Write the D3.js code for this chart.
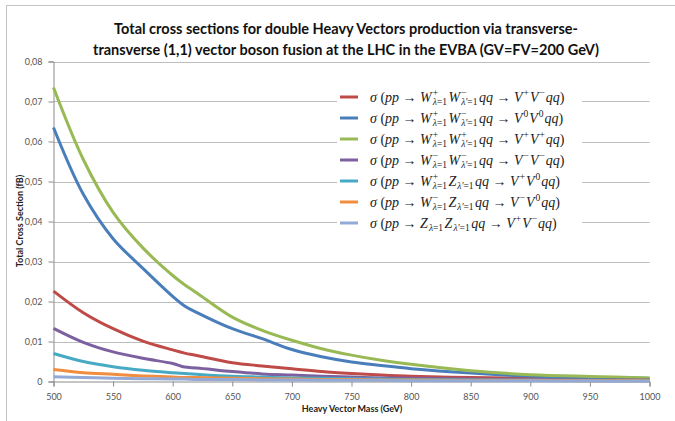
<!DOCTYPE html>
<html>
<head>
<meta charset="utf-8">
<script src="https://cdn.jsdelivr.net/npm/d3@7"></script>
<style>
  body { margin: 0; background: #fff; }
  svg { display: block; }
</style>
</head>
<body>
<div class="container"></div>
<script>
// ===== DATA =====
var masses = [500, 525, 550, 575, 600, 610, 620, 650, 675, 700, 725, 750, 775, 800, 850, 900, 950, 1000];

var wpwm_pm = [0.0226, 0.0172, 0.0132, 0.0101, 0.0079, 0.0071, 0.0065, 0.0047, 0.0039, 0.0032, 0.0025, 0.0020, 0.0016, 0.0013, 0.0010, 0.0008, 0.0007, 0.0006];
var wpwm_00 = [0.0635, 0.0468, 0.0357, 0.0283, 0.0213, 0.0189, 0.0173, 0.0132, 0.0107, 0.0080, 0.0062, 0.0049, 0.0040, 0.0032, 0.0021, 0.00135, 0.0010, 0.0008];
var wpwp_pp = [0.0735, 0.0555, 0.0423, 0.0334, 0.0265, 0.0242, 0.0222, 0.0161, 0.0128, 0.0103, 0.0082, 0.0066, 0.0053, 0.0043, 0.0027, 0.0017, 0.00125, 0.0009];
var wmwm_mm = [0.0133, 0.0098, 0.0074, 0.0058, 0.0045, 0.0036, 0.0034, 0.0025, 0.0019, 0.0016, 0.0013, 0.0011, 0.0009, 0.0008, 0.0006, 0.0005, 0.0004, 0.0004];
var wpz_p0 = [0.0070, 0.0050, 0.0037, 0.0028, 0.0022, 0.0020, 0.0018, 0.0013, 0.0011, 0.0009, 0.0008, 0.0007, 0.0006, 0.0005, 0.0004, 0.0003, 0.0003, 0.0002];
var wmz_m0 = [0.0030, 0.0022, 0.0018, 0.0014, 0.0011, 0.0010, 0.0010, 0.0008, 0.0007, 0.0006, 0.0005, 0.0005, 0.0004, 0.0004, 0.0003, 0.0003, 0.0002, 0.0002];
var zz_pm = [0.0012, 0.0010, 0.0008, 0.0007, 0.0006, 0.0006, 0.0005, 0.0005, 0.0004, 0.0004, 0.0003, 0.0003, 0.0003, 0.0002, 0.0002, 0.0002, 0.0001, 0.0001];

var seriesLabels = [
  "σ (pp → W^{+}_{λ=1}W^{−}_{λ′=1}qq → V^{+}V^{−}qq)",
  "σ (pp → W^{+}_{λ=1}W^{−}_{λ′=1}qq → V^{0}V^{0}qq)",
  "σ (pp → W^{+}_{λ=1}W^{+}_{λ′=1}qq → V^{+}V^{+}qq)",
  "σ (pp → W^{−}_{λ=1}W^{−}_{λ′=1}qq → V^{−}V^{−}qq)",
  "σ (pp → W^{+}_{λ=1}Z_{λ′=1}qq → V^{+}V^{0}qq)",
  "σ (pp → W^{−}_{λ=1}Z_{λ′=1}qq → V^{−}V^{0}qq)",
  "σ (pp → Z_{λ=1}Z_{λ′=1}qq → V^{+}V^{−}qq)"
];
var seriesValues = [wpwm_pm, wpwm_00, wpwp_pp, wmwm_mm, wpz_p0, wmz_m0, zz_pm];
var seriesColors = ['#BE4B48', '#4A7EBB', '#98B954', '#7D60A0', '#46AAC5', '#F08D3E', '#93AAD6'];

var xTicks = [500, 550, 600, 650, 700, 750, 800, 850, 900, 950, 1000];
var yTicks = [0, 0.01, 0.02, 0.03, 0.04, 0.05, 0.06, 0.07, 0.08];

var titleLines = [
  "Total cross sections for double Heavy Vectors production via transverse-",
  "transverse (1,1) vector boson fusion at the LHC in the EVBA (GV=FV=200 GeV)"
];

// ===== SET UP CHART =====
var w = 675, h = 421;
var plot = {left: 53.5, right: 649.5, top: 61.5, bottom: 381.5};

var svg = d3.select('.container')
  .append('svg')
  .attr('width', w)
  .attr('height', h);

// outer chart frame (runs off the right and bottom edges)
svg.append('rect')
  .attr('x', 6.5).attr('y', 5.5)
  .attr('width', 700).attr('height', 450)
  .attr('fill', '#fff')
  .attr('stroke', '#c4c4c4');

var xScale = d3.scaleLinear().domain([500, 1000]).range([plot.left, plot.right]);
var yScale = d3.scaleLinear().domain([0, 0.08]).range([plot.bottom, plot.top]);

var fmt = function(d) { return d === 0 ? '0' : d3.format('.2f')(d).replace('.', ','); };

// gridlines
svg.append('g')
  .selectAll('line')
  .data(yTicks.filter(function(d) { return d > 0; }))
  .enter().append('line')
  .attr('x1', plot.left).attr('x2', plot.right)
  .attr('y1', function(d) { return Math.round(yScale(d)) + 0.5; })
  .attr('y2', function(d) { return Math.round(yScale(d)) + 0.5; })
  .attr('stroke', '#bdbdbd').attr('stroke-width', 1);

// axes
var yAxis = d3.axisLeft(yScale).tickValues(yTicks).tickFormat(fmt).tickSize(5).tickPadding(6);
var xAxis = d3.axisBottom(xScale).tickValues(xTicks).tickFormat(d3.format('d')).tickSize(5).tickPadding(7);

var gy = svg.append('g')
  .attr('transform', 'translate(' + plot.left + ',0)')
  .call(yAxis);
var gx = svg.append('g')
  .attr('transform', 'translate(0,' + plot.bottom + ')')
  .call(xAxis);

[gx, gy].forEach(function(g) {
  g.selectAll('path, line').attr('stroke', '#8c8c8c');
  g.selectAll('text')
    .style('font-family', 'Lato, "Open Sans", sans-serif')
    .style('font-size', '9px')
    .attr('fill', '#555');
});

// ===== LINES =====
var line = d3.line()
  .x(function(d) { return xScale(d[0]); })
  .y(function(d) { return yScale(d[1]); })
  .curve(d3.curveCatmullRom.alpha(0.5));

svg.append('g')
  .selectAll('path')
  .data(seriesValues)
  .enter().append('path')
  .attr('d', function(vals) { return line(masses.map(function(m, i) { return [m, vals[i]]; })); })
  .attr('fill', 'none')
  .attr('stroke', function(d, i) { return seriesColors[i]; })
  .attr('stroke-width', 3)
  .attr('stroke-linejoin', 'round');

// ===== TITLE / LABELS =====
svg.append('g')
  .selectAll('text')
  .data(titleLines)
  .enter().append('text')
  .attr('x', 346)
  .attr('y', function(d, i) { return 34 + i * 21; })
  .attr('text-anchor', 'middle')
  .style('font-family', 'Lato, sans-serif')
  .style('font-weight', 'bold')
  .style('font-size', '14.5px')
  .attr('fill', '#111')
  .text(function(d) { return d; });

svg.append('text')
  .attr('x', 352).attr('y', 412)
  .attr('text-anchor', 'middle')
  .style('font-family', 'Lato, sans-serif')
  .style('font-weight', 'bold')
  .style('font-size', '9px')
  .attr('fill', '#222')
  .text('Heavy Vector Mass (GeV)');

svg.append('text')
  .attr('transform', 'translate(23,221) rotate(-90)')
  .attr('text-anchor', 'middle')
  .style('font-family', 'Lato, sans-serif')
  .style('font-weight', 'bold')
  .style('font-size', '9px')
  .attr('fill', '#222')
  .text('Total Cross Section (fB)');

// ===== LEGEND =====
var legend = svg.append('g');
legend.append('rect')
  .attr('x', 337).attr('y', 86)
  .attr('width', 245).attr('height', 148)
  .attr('fill', '#fff');

// split "W^{+}_{λ=1}" style strings into runs
function parseLabel(s) {
  var runs = [], i = 0, buf = '';
  function flush() { if (buf) { runs.push({t: buf, pos: 'base'}); buf = ''; } }
  while (i < s.length) {
    var c = s[i];
    if ((c === '^' || c === '_') && s[i + 1] === '{') {
      flush();
      var end = s.indexOf('}', i);
      runs.push({t: s.slice(i + 2, end), pos: c === '^' ? 'sup' : 'sub'});
      i = end + 1;
    } else { buf += c; i++; }
  }
  flush();
  return runs;
}

function drawRunText(g, x, y, str, size) {
  // italic for letters, upright for digits and symbols
  var t = g.append('text')
    .attr('x', x).attr('y', y)
    .style('font-family', '"Liberation Serif", serif')
    .style('font-size', size + 'px')
    .attr('fill', '#222');
  var parts = str.match(/([A-Za-zα-ωλσ′]+|[^A-Za-zα-ωλσ′]+)/g) || [];
  parts.forEach(function(p) {
    var it = /[A-Za-zα-ωλσ]/.test(p);
    t.append('tspan')
      .style('font-style', it ? 'italic' : 'normal')
      .text(p);
  });
  return t.node().getComputedTextLength();
}

seriesLabels.forEach(function(lbl, k) {
  var cy = 97 + k * 21;
  legend.append('line')
    .attr('x1', 340).attr('x2', 358)
    .attr('y1', cy).attr('y2', cy)
    .attr('stroke', seriesColors[k])
    .attr('stroke-width', 3);

  var g = legend.append('g');
  var x = 370, base = cy + 4.5;
  var runs = parseLabel(lbl);
  for (var r = 0; r < runs.length; r++) {
    var run = runs[r];
    if (run.pos === 'base') {
      x += drawRunText(g, x, base, run.t, 14) + 0.5;
    } else if (run.pos === 'sup' && runs[r + 1] && runs[r + 1].pos === 'sub') {
      var w1 = drawRunText(g, x + 0.5, base - 6, run.t, 9.5);
      var w2 = drawRunText(g, x + 0.5, base + 3.5, runs[r + 1].t, 9.5);
      x += Math.max(w1, w2) + 2;
      r++;
    } else if (run.pos === 'sup') {
      x += drawRunText(g, x + 0.5, base - 6, run.t, 9.5) + 1.5;
    } else {
      x += drawRunText(g, x + 0.5, base + 3.5, run.t, 9.5) + 2;
    }
  }
});
</script>
</body>
</html>
